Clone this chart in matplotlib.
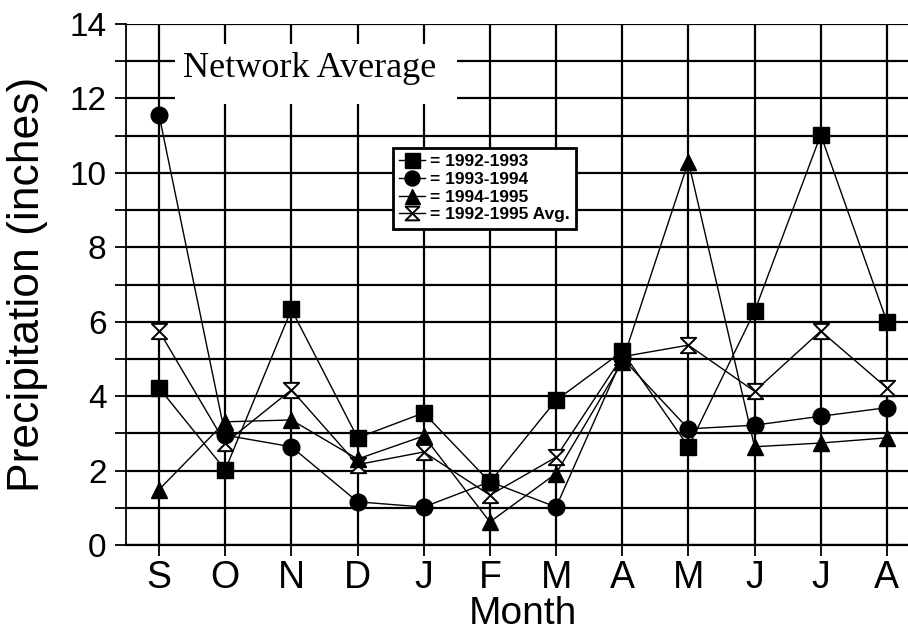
import matplotlib
matplotlib.use("Agg")
import matplotlib.pyplot as plt
from matplotlib.path import Path
from matplotlib.patches import Rectangle

months = ["S", "O", "N", "D", "J", "F", "M", "A", "M", "J", "J", "A"]
s_1992_1993 = [4.22, 2.02, 6.33, 2.88, 3.55, 1.69, 3.89, 5.20, 2.64, 6.28, 11.02, 6.00]
s_1993_1994 = [11.55, 2.95, 2.64, 1.16, 1.02, 1.70, 1.02, 5.02, 3.12, 3.22, 3.46, 3.69]
s_1994_1995 = [1.49, 3.31, 3.36, 2.31, 2.93, 0.62, 1.92, 4.92, 10.30, 2.64, 2.74, 2.88]
s_avg = [5.75, 2.74, 4.17, 2.16, 2.50, 1.34, 2.36, 5.06, 5.37, 4.13, 5.75, 4.22]
labels = ["= 1992-1993", "= 1993-1994", "= 1994-1995", "= 1992-1995 Avg."]
yticks = list(range(0, 15))

plt.rcParams["font.family"] = ["Liberation Sans", "DejaVu Sans"]

fig = plt.figure(figsize=(9.08, 6.34), dpi=100)
ax = fig.add_axes([126 / 908, 89 / 634, 794 / 908, 521 / 634])

x = list(range(len(months)))

hourglass = Path([(-1, 1), (1, 1), (-1, -1), (1, -1), (-1, 1)],
                 [Path.MOVETO, Path.LINETO, Path.LINETO, Path.LINETO, Path.CLOSEPOLY])

lkw = dict(color="black", lw=1.0, zorder=5)
ax.plot(x, s_avg, marker=hourglass, ms=11, mfc="white", mec="black", mew=1.4,
        label=labels[3], **lkw)
ax.plot(x, s_1994_1995, marker="^", ms=12, mfc="black", mec="black", label=labels[2], **lkw)
ax.plot(x, s_1993_1994, marker="o", ms=12, mfc="black", mec="black", label=labels[1], **lkw)
ax.plot(x, s_1992_1993, marker="s", ms=12, mfc="black", mec="black", label=labels[0], **lkw)

ax.set_xlim(-0.5, 11.5)
ax.set_ylim(0, 14)
ax.set_xticks(x)
ax.set_xticklabels(months, fontsize=27)
ax.set_yticks(yticks)
ax.set_yticklabels([str(v) if v % 2 == 0 else "" for v in yticks], fontsize=24)
ax.tick_params(axis="both", direction="out", length=8, width=1.3, color="black")
ax.tick_params(axis="x", pad=3)
ax.tick_params(axis="y", pad=6)

ax.grid(True, color="black", lw=1.6, zorder=1)
for sp in ["top", "right"]:
    ax.spines[sp].set_visible(False)
ax.spines["left"].set_linewidth(1.3)
ax.spines["bottom"].set_linewidth(1.6)

ax.set_xlabel("Month", fontsize=28, labelpad=0)
ax.set_ylabel("Precipitation (inches)", fontsize=32)
ax.yaxis.set_label_coords(-0.098, 0.5)

ax.add_patch(Rectangle((0.24, 11.85), 4.26, 1.61, facecolor="white", edgecolor="none", zorder=3))
ax.text(2.28, 12.8, "Network Average", family=["Liberation Serif", "DejaVu Serif"],
        fontsize=26, ha="center", va="center", zorder=4)

handles, labs = ax.get_legend_handles_labels()
order = [3, 2, 1, 0]
leg = ax.legend([handles[i] for i in order], [labs[i] for i in order],
                loc="upper left", bbox_to_anchor=(0.336, 0.762), borderaxespad=0,
                fancybox=False, framealpha=1, edgecolor="black",
                prop={"family": ["Liberation Sans", "DejaVu Sans"], "weight": "bold", "size": 12.5},
                handlelength=1.5, handletextpad=0.3, labelspacing=0.15, borderpad=0.35,
                markerscale=0.9)
leg.get_frame().set_linewidth(2.0)
leg.set_zorder(10)

fig.savefig("out.png", dpi=100)
